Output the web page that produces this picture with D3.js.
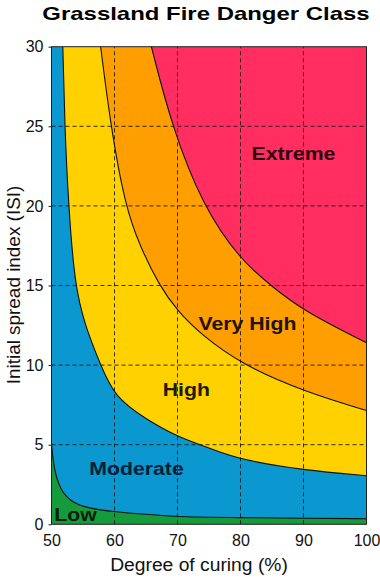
<!DOCTYPE html>
<html>
<head>
<meta charset="utf-8">
<script src="https://cdn.jsdelivr.net/npm/d3@7"></script>
<style>
  body { margin: 0; background: #fff; }
  svg text { font-family: "Liberation Sans", Arial, sans-serif; }
</style>
</head>
<body>
<svg id="chart" width="380" height="578"></svg>
<script>
// class boundaries (degree of curing %, ISI)
var lowX  = [50, 50.3, 51.3, 53.4, 56.1, 59.8, 64, 67.2, 70.3, 80, 90, 100];
var lowY  = [5.1, 3.7, 2.15, 1.32, 1.0, 0.79, 0.65, 0.57, 0.46, 0.42, 0.38, 0.35];
var modX  = [51.8, 52.1, 52.7, 53.7, 55.3, 57.8, 60, 65, 70, 75, 80, 90, 100];
var modY  = [30, 25, 20, 15, 12.5, 10, 8.0, 6.6, 5.5, 4.8, 4.05, 3.4, 3.05];
var highX = [57.8, 59.4, 61.7, 64, 67.1, 70, 73.5, 80.3, 90.4, 100];
var highY = [30, 25, 20, 17.5, 15, 13.4, 12.0, 10.0, 8.3, 7.15];
var vhX   = [65.85, 69.1, 74, 80, 84.8, 90, 100];
var vhY   = [30, 25, 20, 16.6, 15, 13.4, 11.4];

var classes = ["Low", "Moderate", "High", "Very High", "Extreme"];
var classColors = ["#159a3c", "#0b97cf", "#ffd100", "#ff9e00", "#ff2d60"];
var textColors = ["#0a1e0e", "#061f36", "#201a00", "#221300", "#2a0612"];
// label anchors in data units
var labelX = [53.8, 63.5, 71.4, 81.1, 88.4];
var labelY = [0.2, 3.1, 8.07, 12.2, 22.9];

var xTicks = [50, 60, 70, 80, 90, 100];
var yTicks = [0, 5, 10, 15, 20, 25, 30];

window.onload = function() {
  makeChart();
};

// the original lettering is a bit wider than Arial, so stretch it
function widen(sel, k) {
  sel.each(function() {
    var w = this.getComputedTextLength();
    d3.select(this).attr("textLength", w * k).attr("lengthAdjust", "spacingAndGlyphs");
  });
}

function makeChart() {
  var svg = d3.select("#chart");

  var x = d3.scaleLinear().domain([50, 100]).range([51.5, 366.5]);
  var y = d3.scaleLinear().domain([0, 30]).range([524.3, 46.7]);

  svg.append("defs").append("clipPath").attr("id", "plotclip")
    .append("rect")
      .attr("x", x(50)).attr("y", y(30))
      .attr("width", x(100) - x(50)).attr("height", y(0) - y(30));

  var plot = svg.append("g").attr("clip-path", "url(#plotclip)");

  var line = d3.line()
      .x(function(d) { return x(d[0]); })
      .y(function(d) { return y(d[1]); })
      .curve(d3.curveBasis);

  function pts(xs, ys) { return xs.map(function(v, i) { return [v, ys[i]]; }); }

  var bounds = [pts(lowX, lowY), pts(modX, modY), pts(highX, highY), pts(vhX, vhY)];

  // top class fills everything, then lower classes are painted on top
  plot.append("rect")
    .attr("x", x(50)).attr("y", y(30))
    .attr("width", x(100) - x(50)).attr("height", y(0) - y(30))
    .attr("fill", classColors[4]);

  for (var i = 3; i >= 0; i--) {
    var b = bounds[i];
    var last = b[b.length - 1];
    var d = "M" + x(50) + "," + y(0) + "L" + x(50) + "," + y(i == 0 ? b[0][1] : 30) +
            "L" + line(b).slice(1) +
            "L" + x(last[0]) + "," + y(0) + "Z";
    plot.append("path").attr("d", d).attr("fill", classColors[i]);
  }

  // dashed grid
  plot.selectAll(".vgrid").data(xTicks.slice(1, -1)).enter().append("line")
    .attr("x1", x).attr("x2", x)
    .attr("y1", y(0)).attr("y2", y(30))
    .attr("stroke", "#1a1a1a").attr("stroke-opacity", 0.9)
    .attr("stroke-dasharray", "4,3").attr("stroke-width", 1);
  plot.selectAll(".hgrid").data(yTicks.slice(1, -1)).enter().append("line")
    .attr("y1", y).attr("y2", y)
    .attr("x1", x(50)).attr("x2", x(100))
    .attr("stroke", "#1a1a1a").attr("stroke-opacity", 0.9)
    .attr("stroke-dasharray", "4,3").attr("stroke-width", 1);

  // boundary lines
  plot.selectAll(".bound").data(bounds).enter().append("path")
    .attr("d", line)
    .attr("fill", "none")
    .attr("stroke", "#111")
    .attr("stroke-width", 1.1);

  // frame
  svg.append("rect")
    .attr("x", x(50)).attr("y", y(30))
    .attr("width", x(100) - x(50)).attr("height", y(0) - y(30))
    .attr("fill", "none").attr("stroke", "#222").attr("stroke-width", 1);

  // axes
  var xAxis = svg.append("g")
    .attr("transform", "translate(0," + y(0) + ")")
    .call(d3.axisBottom(x).tickValues(xTicks).tickSize(0).tickPadding(10));
  var yAxis = svg.append("g")
    .attr("transform", "translate(" + x(50) + ",0)")
    .call(d3.axisLeft(y).tickValues(yTicks).tickSize(3).tickPadding(5));
  [xAxis, yAxis].forEach(function(a) {
    a.select(".domain").remove();
    a.selectAll("text").attr("font-size", 16).attr("fill", "#111")
      .style("font-family", "Liberation Sans, Arial, sans-serif");
    a.selectAll("line").attr("stroke", "#222");
  });

  // class labels
  var labels = svg.selectAll(".cls").data(classes).enter().append("text")
    .attr("x", function(d, i) { return x(labelX[i]); })
    .attr("y", function(d, i) { return y(labelY[i]); })
    .attr("text-anchor", "middle")
    .attr("font-size", 18)
    .attr("font-weight", "bold")
    .attr("fill", function(d, i) { return textColors[i]; })
    .text(function(d) { return d; });
  widen(labels, 1.18);

  // titles
  var title = svg.append("text")
    .attr("x", 206).attr("y", 20)
    .attr("text-anchor", "middle")
    .attr("font-size", 19).attr("font-weight", "bold")
    .attr("fill", "#000")
    .text("Grassland Fire Danger Class");
  widen(title, 1.26);

  var xTitle = svg.append("text")
    .attr("x", 199).attr("y", 571)
    .attr("text-anchor", "middle")
    .attr("font-size", 18).attr("fill", "#111")
    .text("Degree of curing (%)");
  widen(xTitle, 1.07);

  var yTitle = svg.append("text")
    .attr("transform", "translate(20,285) rotate(-90)")
    .attr("text-anchor", "middle")
    .attr("font-size", 18).attr("fill", "#111")
    .text("Initial spread index (ISI)");
  widen(yTitle, 1.05);
}
</script>
</body>
</html>
